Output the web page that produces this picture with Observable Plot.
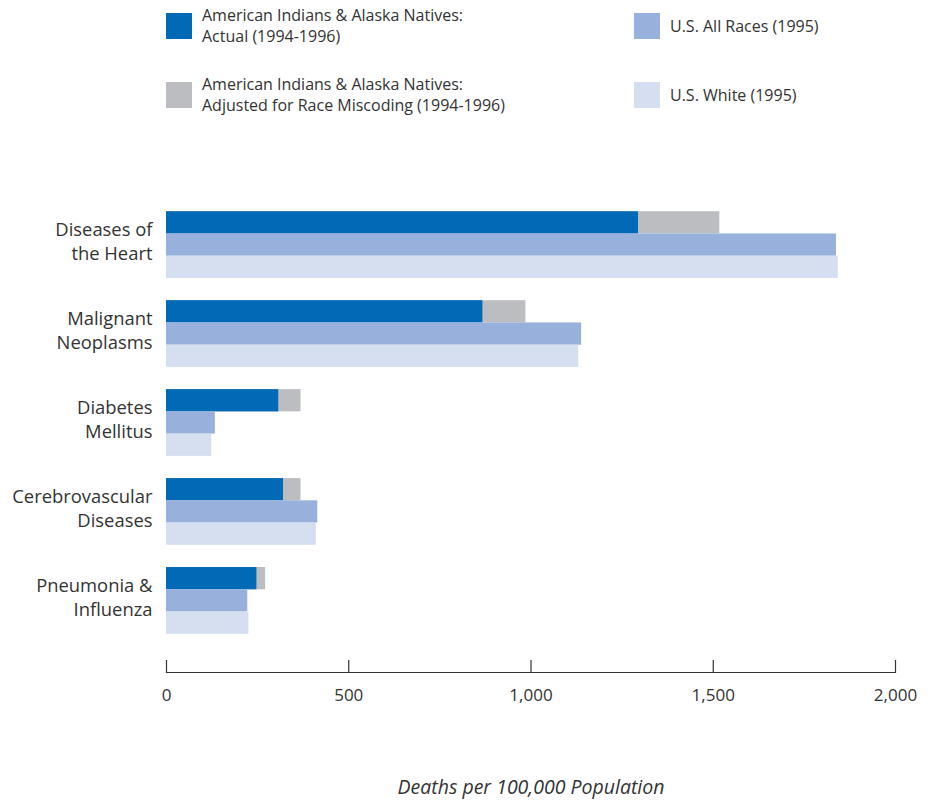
<!DOCTYPE html>
<html>
<head>
<meta charset="utf-8">
<script src="https://cdn.jsdelivr.net/npm/d3@7"></script>
<script src="https://cdn.jsdelivr.net/npm/@observablehq/plot@0.6"></script>
<style>
  html, body { margin: 0; padding: 0; background: #fff; }
  body { width: 930px; height: 801px; position: relative; font-family: "Open Sans", sans-serif; color: #333; }
  #legend { position: relative; height: 160px; }
  .item { position: absolute; display: flex; align-items: center; font-size: 16px; }
  .item .line { line-height: 21px; height: 21px; white-space: nowrap; }
  .sw { width: 26px; height: 26px; margin-right: 10px; flex: none; }
  #chart svg { display: block; }
</style>
</head>
<body>
<div id="legend"></div>
<div id="chart"></div>
<script>
// Age-adjusted mortality, deaths per 100,000 population
const categories = [
  "Diseases of\nthe Heart",
  "Malignant\nNeoplasms",
  "Diabetes\nMellitus",
  "Cerebrovascular\nDiseases",
  "Pneumonia &\nInfluenza"
];
const aianActual   = [1295, 868, 308, 321, 248];
const aianAdjusted = [1518, 986, 369, 369, 272];
const usAllRaces   = [1838, 1139, 134, 415, 223];
const usWhite      = [1843, 1131, 124, 411, 226];
const xTicks = [0, 500, 1000, 1500, 2000];

const seriesNames = [
  "American Indians & Alaska Natives:\nActual (1994-1996)",
  "American Indians & Alaska Natives:\nAdjusted for Race Miscoding (1994-1996)",
  "U.S. All Races (1995)",
  "U.S. White (1995)"
];
const colors = ["#006ab7", "#bcbdc0", "#97b1dc", "#d6dff0"];

// Legend
const legendPos = [[166, 13], [166, 82], [634, 13], [634, 82]];
const legend = document.getElementById("legend");
seriesNames.forEach((name, i) => {
  const item = document.createElement("div");
  item.className = "item";
  item.style.left = legendPos[i][0] + "px";
  item.style.top = legendPos[i][1] + "px";
  item.style.height = "26px";
  const sw = document.createElement("div");
  sw.className = "sw";
  sw.style.background = colors[i];
  const label = document.createElement("div");
  name.split("\n").forEach(t => {
    const ln = document.createElement("div");
    ln.className = "line";
    ln.textContent = t;
    label.appendChild(ln);
  });
  item.appendChild(sw);
  item.appendChild(label);
  legend.appendChild(item);
});

// Chart geometry
const width = 930, height = 641;
const marginTop = 29, marginBottom = 129, marginLeft = 166, marginRight = 35;
const insetBottom = 16, pad = 0.25;
const inner = height - marginTop - marginBottom - insetBottom;
const step = inner / (categories.length - pad + 2 * pad);
const band = step * (1 - pad);
const sub = band / 3;

const rows = categories.map((c, i) => ({
  cat: c, actual: aianActual[i], adjusted: aianAdjusted[i], all: usAllRaces[i], white: usWhite[i]
}));

const chart = Plot.plot({
  width, height, marginTop, marginBottom, marginLeft, marginRight,
  style: { fontFamily: "Open Sans, sans-serif", color: "#333" },
  x: { domain: [0, 2000] },
  y: { domain: categories, padding: pad, insetBottom, round: false },
  marks: [
    Plot.barX(rows, { y: "cat", x: "adjusted", fill: colors[1], insetBottom: 2 * sub }),
    Plot.barX(rows, { y: "cat", x: "actual", fill: colors[0], insetBottom: 2 * sub }),
    Plot.barX(rows, { y: "cat", x: "all", fill: colors[2], insetTop: sub, insetBottom: sub }),
    Plot.barX(rows, { y: "cat", x: "white", fill: colors[3], insetTop: 2 * sub }),
    Plot.axisY({ tickSize: 0, tickPadding: 14, fontSize: 18.4, lineHeight: 1.3, dy: -5, label: null, fill: "#333" }),
    Plot.axisX(xTicks, { tickSize: 0, tickPadding: 16, fontSize: 17, tickFormat: d3.format(","), label: null, fill: "#333" }),
    Plot.ruleX(xTicks, { x: d => d, insetTop: height - marginTop - marginBottom - 12, stroke: "#333", strokeWidth: 1.2 }),
    Plot.frame({ anchor: "bottom", stroke: "#333", strokeWidth: 1.2 }),
    Plot.text(["Deaths per 100,000 Population"], {
      frameAnchor: "bottom", dy: 115, fontSize: 19.5, fontStyle: "italic", fill: "#333", lineAnchor: "middle"
    })
  ]
});
document.getElementById("chart").appendChild(chart);
</script>
</body>
</html>
